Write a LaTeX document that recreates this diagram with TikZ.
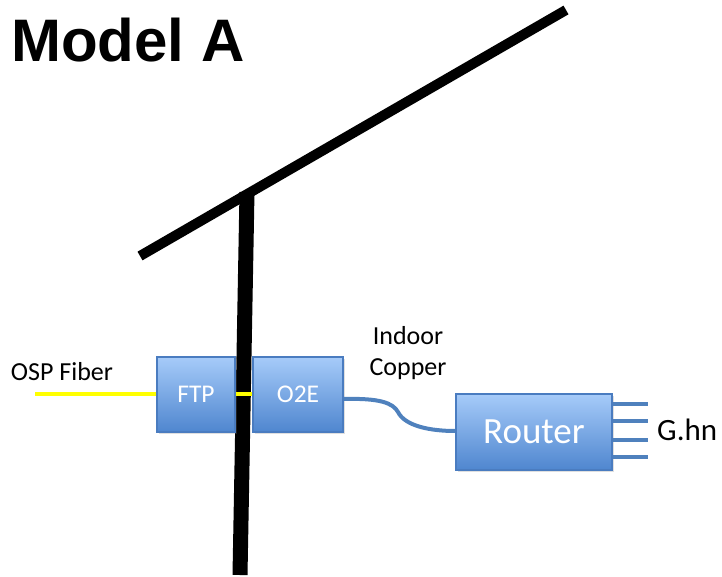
\documentclass[tikz,border=0pt]{standalone}
\usepackage{fontspec}
\setmainfont{Carlito}
\newfontfamily\titlefont{Liberation Sans}
\usetikzlibrary{shadows}
\definecolor{boxtop}{HTML}{A6CBF9}
\definecolor{boxbot}{HTML}{4F86CF}
\definecolor{boxline}{HTML}{4A7CC0}
\definecolor{cable}{HTML}{4F81BD}
\definecolor{fiber}{HTML}{FFFF00}
\tikzset{
  devbox/.style={draw=boxline, line width=1.5pt, top color=boxtop, bottom color=boxbot,
    text=white, font=\fontsize{25.5}{30}\selectfont, inner sep=0pt,
    drop shadow={shadow xshift=2pt, shadow yshift=-2pt, opacity=0.25}},
  lbl/.style={font=\fontsize{26}{31}\selectfont, inner sep=0pt},
  structure/.style={line cap=butt, draw=black},
  fiberline/.style={draw=fiber, line width=4pt},
  copperline/.style={draw=cable, line width=4pt},
  pinline/.style={draw=cable, line width=3.5pt}
}
\begin{document}
\begin{tikzpicture}[x=1pt,y=-1pt]
\useasboundingbox (0,0) rectangle (722,577);
% title
\node[anchor=base west, inner sep=0pt, font=\titlefont\bfseries\fontsize{60}{66}\selectfont] (title) at (11,62) {Model A};
% roof and pole
\coordinate (roofL) at (140,256);
\coordinate (roofR) at (566,10);
\coordinate (poleT) at (247,192);
\coordinate (poleB) at (240,575);
\draw[structure, line width=10pt] (roofL) -- (roofR);
\draw[structure, line width=15pt] (poleT) -- (poleB);
% boxes
\node[devbox, minimum width=78pt, minimum height=75pt] (ftp) at (196,394.5) {FTP};
\node[devbox, minimum width=90pt, minimum height=75pt] (o2e) at (298,394.5) {O2E};
\node[devbox, minimum width=156pt, minimum height=76pt, font=\fontsize{37}{42}\selectfont] (router) at (534,432) {Router};
% fiber
\coordinate (osp) at (35,394);
\draw[fiberline] (osp) -- (ftp.west |- osp);
\draw[fiberline] (ftp.east |- osp) -- (o2e.west |- osp);
% copper cable
\draw[copperline] (o2e.east |- 0,399) .. controls (380,398) and (393,403) .. (398,412)
  .. controls (405,426) and (430,431) .. (router.west |- 0,431);
% router pins
\foreach \y/\n in {404/a,421/b,440/c,457/d}{
  \coordinate (pin\n) at (648,\y);
  \draw[pinline] (router.east |- pin\n) -- (pin\n);
}
% labels
\node[lbl] (osplbl) at (62,372) {OSP Fiber};
\node[lbl, align=center] (indoor) at (408,353) {Indoor\\Copper};
\node[lbl, anchor=west, font=\fontsize{31}{36}\selectfont] (ghn) at (657,430) {G.hn};
\end{tikzpicture}
\end{document}
